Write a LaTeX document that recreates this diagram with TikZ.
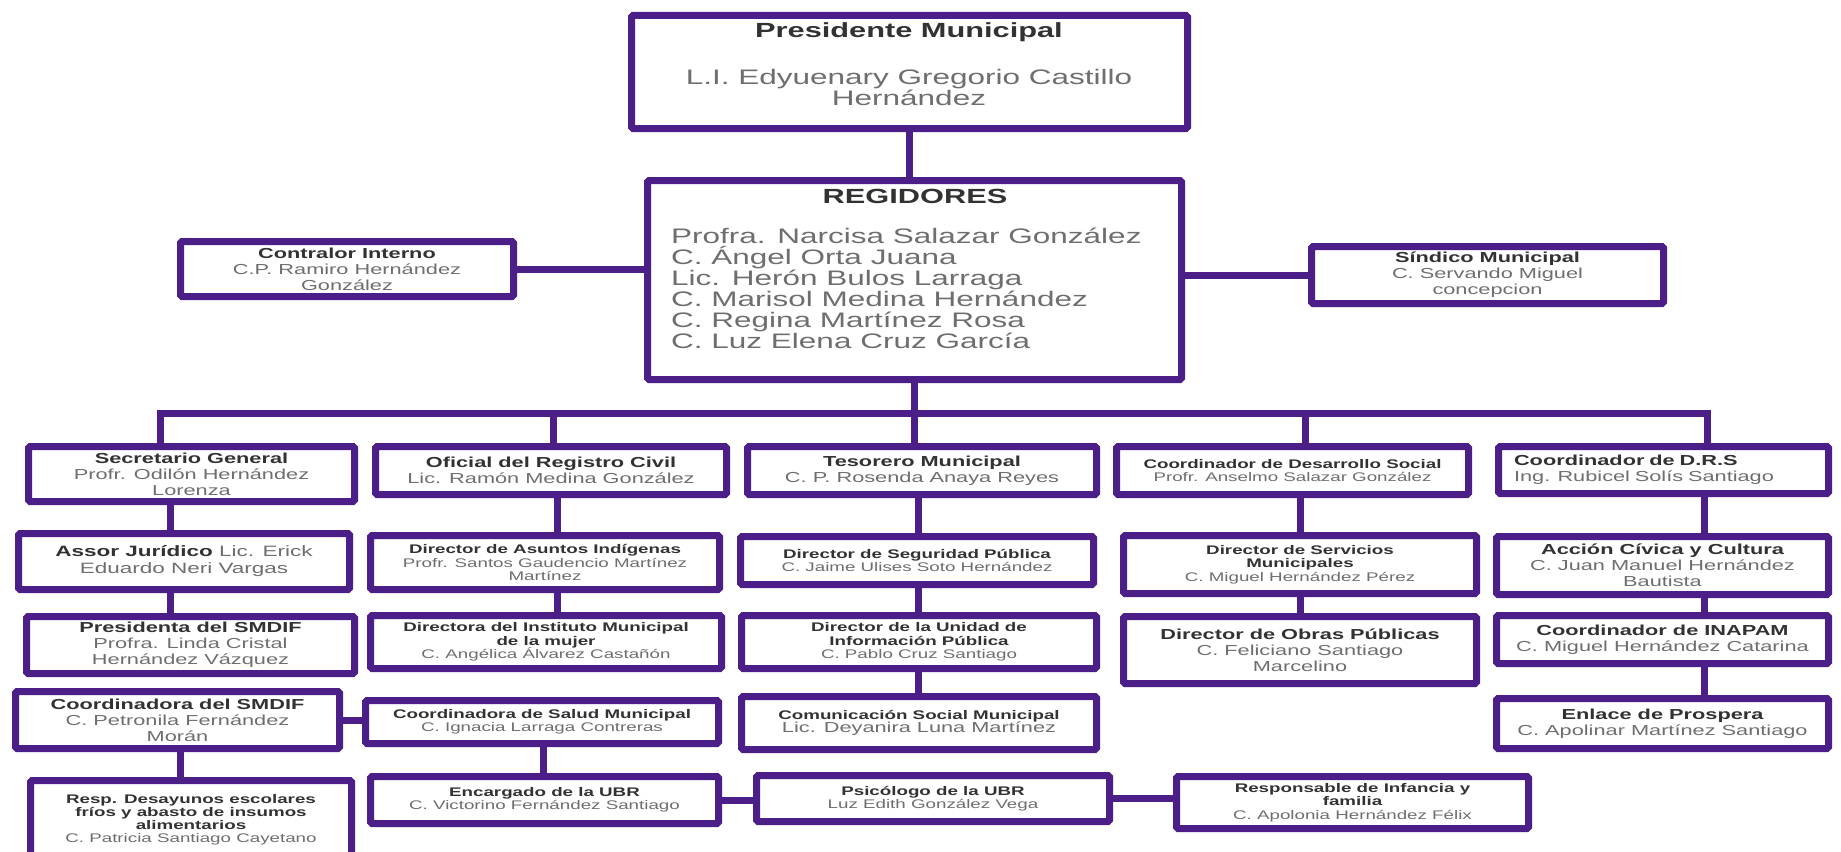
\documentclass[tikz,border=0pt]{standalone}
\usepackage{fontspec}
\setmainfont{Liberation Sans}[FakeStretch=1.5]
\definecolor{org}{RGB}{76,30,136}
\definecolor{ttl}{RGB}{50,50,50}
\definecolor{nm}{RGB}{110,110,110}
\newcommand\ti[1]{{\color{ttl}\bfseries #1}}
\newcommand\bx[7][]{\node[box,#1,minimum width={(#5-#3-7)*1pt},minimum height={(#6-#4-7)*1pt}] (#2) at ({(#3+#5)/2},{(#4+#6)/2}) {#7};}
\tikzset{
  box/.style={draw=org,line width=7pt,rounded corners=1.5pt,fill=white,inner sep=0pt,align=center,text=nm},
  conn/.style={draw=org,line width=7pt,line join=miter},
  sm/.style={font=\fontsize{12.5}{13.5}\selectfont},
  md/.style={font=\fontsize{14.5}{16}\selectfont},
  lg/.style={font=\fontsize{21}{21}\selectfont},
}
\begin{document}
\begin{tikzpicture}[x=1pt,y=-1pt]
\useasboundingbox (0,0) rectangle (1841,851);
\fill[white] (0,0) rectangle (1841,851);
% top
\bx{pres}{628}{12}{1191}{132}{}
\node[text=ttl,font=\fontsize{20.5}{21}\selectfont\bfseries] (prestitle) at (909,32) {Presidente Municipal};
\node[lg,text=nm,align=center] (presname) at (909,87) {L.I. Edyuenary Gregorio Castillo\\Hernández};
\bx{reg}{644}{177}{1185}{383}{}
\node[text=ttl,font=\fontsize{20.5}{21}\selectfont\bfseries] (regtitle) at (915,196) {REGIDORES};
\node[lg,text=nm,align=left,anchor=north west,inner sep=0pt] (reglist) at (671,228) {Profra. Narcisa Salazar González\\C. Ángel Orta Juana\\Lic. Herón Bulos Larraga\\C. Marisol Medina Hernández\\C. Regina Martínez Rosa\\C. Luz Elena Cruz García};
\bx[md]{contralor}{177}{238}{517}{300}{\ti{Contralor Interno}\\C.P. Ramiro Hernández\\González}
\bx[md]{sindico}{1308}{243}{1667}{307}{\ti{Síndico Municipal}\\C. Servando Miguel\\concepcion}
% level 1
\bx[md]{sec}{25}{443}{358}{505}{\ti{Secretario General}\\Profr. Odilón Hernández\\Lorenza}
\bx[md]{ofi}{372}{443}{730}{498}{\ti{Oficial del Registro Civil}\\Lic. Ramón Medina González}
\bx[md]{tes}{744}{443}{1100}{498}{\ti{Tesorero Municipal}\\C. P. Rosenda Anaya Reyes}
\bx[sm]{cds}{1113}{443}{1472}{498}{\ti{Coordinador de Desarrollo Social}\\Profr. Anselmo Salazar González}
\bx[md,align=left,text width=299pt]{drs}{1495}{443}{1832}{497}{\ti{Coordinador de D.R.S}\\Ing. Rubicel Solís Santiago}
% level 2
\bx[md,font=\fontsize{15}{17}\selectfont]{asesor}{15}{530}{353}{593}{\ti{Assor Jurídico} Lic. Erick\\Eduardo Neri Vargas}
\bx[sm]{asun}{367}{532}{723}{593}{\ti{Director de Asuntos Indígenas}\\Profr. Santos Gaudencio Martínez\\Martínez}
\bx[sm]{seg}{737}{533}{1097}{588}{\ti{Director de Seguridad Pública}\\C. Jaime Ulises Soto Hernández}
\bx[sm]{serv}{1120}{532}{1480}{597}{\ti{Director de Servicios}\\\ti{Municipales}\\C. Miguel Hernández Pérez}
\bx[md]{acc}{1493}{533}{1832}{598}{\ti{Acción Cívica y Cultura}\\C. Juan Manuel Hernández\\Bautista}
% level 3
\bx[md]{presdif}{23}{613}{358}{677}{\ti{Presidenta del SMDIF}\\Profra. Linda Cristal\\Hernández Vázquez}
\bx[sm]{mujer}{367}{612}{725}{672}{\ti{Directora del Instituto Municipal}\\\ti{de la mujer}\\C. Angélica Álvarez Castañón}
\bx[sm]{uip}{738}{612}{1100}{672}{\ti{Director de la Unidad de}\\\ti{Información Pública}\\C. Pablo Cruz Santiago}
\bx[md]{obras}{1120}{613}{1480}{687}{\ti{Director de Obras Públicas}\\C. Feliciano Santiago\\Marcelino}
\bx[md]{inapam}{1493}{612}{1832}{667}{\ti{Coordinador de INAPAM}\\C. Miguel Hernández Catarina}
% level 4
\bx[md]{coordif}{12}{688}{343}{752}{\ti{Coordinadora del SMDIF}\\C. Petronila Fernández\\Morán}
\bx[sm]{salud}{362}{697}{722}{747}{\ti{Coordinadora de Salud Municipal}\\C. Ignacia Larraga Contreras}
\bx[sm]{com}{738}{693}{1100}{753}{\ti{Comunicación Social Municipal}\\{\fontsize{14.5}{16}\selectfont Lic. Deyanira Luna Martínez}}
\bx[md]{prosp}{1493}{695}{1832}{752}{\ti{Enlace de Prospera}\\C. Apolinar Martínez Santiago}
% level 5
\bx[sm,font=\fontsize{12.5}{13}\selectfont]{desay}{27}{777}{355}{862}{\ti{Resp. Desayunos escolares}\\\ti{fríos y abasto de insumos}\\\ti{alimentarios}\\C. Patricia Santiago Cayetano}
\bx[sm]{ubr}{367}{773}{722}{827}{\ti{Encargado de la UBR}\\C. Victorino Fernández Santiago}
\bx[sm]{psic}{753}{772}{1113}{825}{\ti{Psicólogo de la UBR}\\Luz Edith González Vega}
\bx[sm]{infan}{1173}{773}{1532}{832}{\ti{Responsable de Infancia y}\\\ti{familia}\\C. Apolonia Hernández Félix}
% connectors
\coordinate (busL) at (160,413);
\coordinate (busR) at (1707,413);
\coordinate (b2) at (553,413);
\coordinate (b4) at (1305,413);
\coordinate (c1) at (170,0);
\coordinate (c1b) at (180,0);
\coordinate (c2) at (557,0);
\coordinate (c2b) at (543,0);
\coordinate (c3) at (918,0);
\coordinate (c4) at (1300,0);
\coordinate (c5) at (1704,0);
\draw[conn] (pres.south) -- (pres.south |- reg.north);
\draw[conn] (contralor.east) -- (contralor.east -| reg.west);
\draw[conn] (reg.east |- sindico.west) -- (sindico.west);
\draw[conn] (reg.south) -- (reg.south |- tes.north);
\draw[conn] (busL |- sec.north) -- (busL) -- (busR) -- (busR |- drs.north);
\draw[conn] (b2) -- (b2 |- ofi.north);
\draw[conn] (b4) -- (b4 |- cds.north);
\draw[conn] (c1 |- sec.south) -- (c1 |- asesor.north);
\draw[conn] (c1 |- asesor.south) -- (c1 |- presdif.north);
\draw[conn] (c1b |- coordif.south) -- (c1b |- desay.north);
\draw[conn] (coordif.east) -- (coordif.east -| salud.west);
\draw[conn] (c2 |- ofi.south) -- (c2 |- asun.north);
\draw[conn] (c2 |- asun.south) -- (c2 |- mujer.north);
\draw[conn] (c2b |- salud.south) -- (c2b |- ubr.north);
\draw[conn] (ubr.east) -- (ubr.east -| psic.west);
\draw[conn] (psic.east) -- (psic.east -| infan.west);
\draw[conn] (c3 |- tes.south) -- (c3 |- seg.north);
\draw[conn] (c3 |- seg.south) -- (c3 |- uip.north);
\draw[conn] (c3 |- uip.south) -- (c3 |- com.north);
\draw[conn] (c4 |- cds.south) -- (c4 |- serv.north);
\draw[conn] (c4 |- serv.south) -- (c4 |- obras.north);
\draw[conn] (c5 |- drs.south) -- (c5 |- acc.north);
\draw[conn] (c5 |- acc.south) -- (c5 |- inapam.north);
\draw[conn] (c5 |- inapam.south) -- (c5 |- prosp.north);
\end{tikzpicture}
\end{document}
